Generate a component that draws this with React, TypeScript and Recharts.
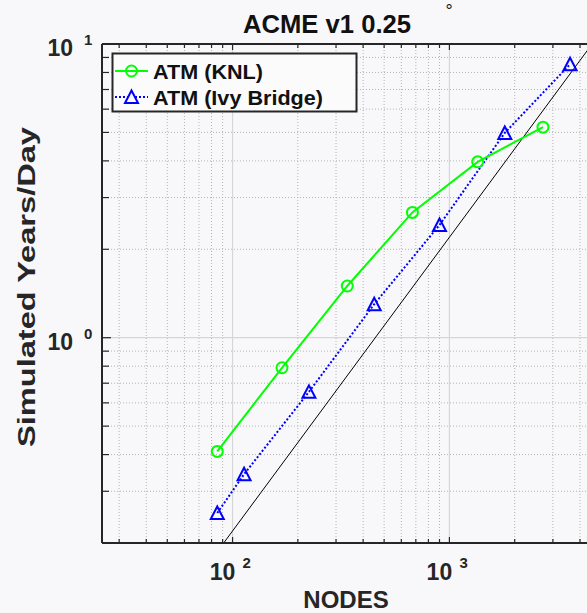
import { LineChart, Line, XAxis, YAxis, ReferenceLine } from 'recharts';

// scaling data
const knlNodes = [85, 169, 338, 675, 1350, 2700];
const knlSypd = [0.41, 0.79, 1.5, 2.67, 3.97, 5.21];
const ivyNodes = [85, 113, 225, 450, 900, 1800, 3600];
const ivySypd = [0.253, 0.343, 0.654, 1.3, 2.42, 4.98, 8.53];
const idealNodes = [91, 4550];
const idealSypd = [0.2, 10];

const xMajor = [100, 1000];
const xMinor = [30, 40, 50, 60, 70, 80, 90, 200, 300, 400, 500, 600, 700, 800, 900, 2000, 3000, 4000];
const yMajor = [1, 10];
const yMinor = [0.2, 0.3, 0.4, 0.5, 0.6, 0.7, 0.8, 0.9, 2, 3, 4, 5, 6, 7, 8, 9];
const xDomain = [25, 5000];
const yDomain = [0.2, 10];

const knl = knlNodes.map((x, i) => ({ x, y: knlSypd[i] }));
const ivy = ivyNodes.map((x, i) => ({ x, y: ivySypd[i] }));
const ideal = idealNodes.map((x, i) => ({ x, y: idealSypd[i] }));

const W = 620;
const H = 613;
const PLOT_TOP = 44;
const PLOT_LEFT = 102;
const PLOT_RIGHT = 601;
const PLOT_BOTTOM = 543;
const PLOT_W = PLOT_RIGHT - PLOT_LEFT;
const PLOT_H = PLOT_BOTTOM - PLOT_TOP;
const X_AXIS_H = 40;

const INK = '#262626';
const FONT = '"Liberation Sans", Arial, Helvetica, sans-serif';
const GREEN = '#00ff00';
const BLUE = '#0000ff';

function XTick({ x, y, payload }: any) {
  const v = payload.value as number;
  const major = xMajor.includes(v);
  const len = major ? 6 : 4;
  return (
    <g>
      <line x1={x} x2={x} y1={y} y2={y - len} stroke={INK} strokeWidth={1.2} />
      <line x1={x} x2={x} y1={y - PLOT_H} y2={y - PLOT_H + len} stroke={INK} strokeWidth={1.2} />
      {major && (
        <>
          <text x={x - 10} y={y + 37} textAnchor="middle" fontSize={23} fontWeight="bold" fill={INK} fontFamily={FONT}>10</text>
          <text x={x + 10} y={y + 25} fontSize={15} fontWeight="bold" fill={INK} fontFamily={FONT}>{Math.round(Math.log10(v))}</text>
        </>
      )}
    </g>
  );
}

function YTick({ x, y, payload }: any) {
  const v = payload.value as number;
  const major = yMajor.includes(v);
  const len = major ? 9 : 7;
  return (
    <g>
      <line x1={x} x2={x + len} y1={y} y2={y} stroke={INK} strokeWidth={1.2} />
      <line x1={x + PLOT_W} x2={x + PLOT_W - len} y1={y} y2={y} stroke={INK} strokeWidth={1.2} />
      {major && (
        <>
          <text x={x - 29} y={y + 12} textAnchor="end" fontSize={23} fontWeight="bold" fill={INK} fontFamily={FONT}>10</text>
          <text x={x - 18} y={y + 1} fontSize={15} fontWeight="bold" fill={INK} fontFamily={FONT}>{Math.round(Math.log10(v))}</text>
        </>
      )}
    </g>
  );
}

function Circle({ cx, cy, index }: any) {
  return <circle key={`c-${index}`} cx={cx} cy={cy} r={5.5} fill="none" stroke={GREEN} strokeWidth={2} />;
}

function Triangle({ cx, cy, index }: any) {
  return (
    <path
      key={`t-${index}`}
      d={`M${cx},${cy - 6.5} L${cx + 6.5},${cy + 6} L${cx - 6.5},${cy + 6} Z`}
      fill="none"
      stroke={BLUE}
      strokeWidth={2}
    />
  );
}

function LegendBox() {
  return (
    <svg width={248} height={62} style={{ position: 'absolute', left: 111, top: 52 }}>
      <rect x={1.5} y={1.5} width={244} height={58} fill="#fbfbfc" stroke={INK} strokeWidth={2} />
      <line x1={4} x2={37} y1={19} y2={19} stroke={GREEN} strokeWidth={2} />
      <circle cx={20.5} cy={19} r={5.5} fill="none" stroke={GREEN} strokeWidth={2} />
      <text x={42} y={26.5} fontSize={21} fontWeight="bold" fill="#111" fontFamily={FONT} textLength={110} lengthAdjust="spacingAndGlyphs">ATM (KNL)</text>
      <line x1={4} x2={37} y1={45} y2={45} stroke={BLUE} strokeWidth={2} strokeDasharray="2 2" />
      <path d="M20.5,38.5 L27,51 L14,51 Z" fill="#fbfbfc" stroke={BLUE} strokeWidth={2} />
      <text x={42} y={52.5} fontSize={21} fontWeight="bold" fill="#111" fontFamily={FONT} textLength={170} lengthAdjust="spacingAndGlyphs">ATM (Ivy Bridge)</text>
    </svg>
  );
}

export default function App() {
  return (
    <div style={{ position: 'fixed', left: 0, top: 0, width: 587, height: 613, overflow: 'hidden', background: '#f8f8fa' }}>
      <LineChart
        width={W}
        height={H}
        margin={{ top: PLOT_TOP, right: W - PLOT_RIGHT, left: 0, bottom: H - PLOT_BOTTOM - X_AXIS_H }}
      >
        {xMinor.map((v) => (
          <ReferenceLine key={`gx-${v}`} x={v} stroke="#b4b4b4" strokeDasharray="1 2" strokeWidth={1} />
        ))}
        {yMinor.filter((v) => v > yDomain[0]).map((v) => (
          <ReferenceLine key={`gy-${v}`} y={v} stroke="#b4b4b4" strokeDasharray="1 2" strokeWidth={1} />
        ))}
        {xMajor.map((v) => (
          <ReferenceLine key={`mx-${v}`} x={v} stroke="#d6d6d6" strokeWidth={1.2} />
        ))}
        {yMajor.filter((v) => v < yDomain[1]).map((v) => (
          <ReferenceLine key={`my-${v}`} y={v} stroke="#d6d6d6" strokeWidth={1.2} />
        ))}
        <XAxis
          dataKey="x"
          type="number"
          scale="log"
          domain={xDomain}
          allowDataOverflow
          ticks={[...xMinor, ...xMajor].sort((a, b) => a - b)}
          interval={0}
          tick={<XTick />}
          tickLine={false}
          tickSize={0}
          tickMargin={0}
          height={X_AXIS_H}
          axisLine={{ stroke: INK, strokeWidth: 2 }}
        />
        <YAxis
          dataKey="y"
          type="number"
          scale="log"
          domain={yDomain}
          allowDataOverflow
          ticks={[...yMinor, ...yMajor].sort((a, b) => a - b)}
          interval={0}
          tick={<YTick />}
          tickLine={false}
          tickSize={0}
          tickMargin={0}
          width={PLOT_LEFT}
          axisLine={{ stroke: INK, strokeWidth: 2 }}
        />
        <ReferenceLine y={yDomain[1]} stroke={INK} strokeWidth={2} />
        <ReferenceLine x={xDomain[1]} stroke={INK} strokeWidth={2} />
        <Line data={ideal} dataKey="y" stroke="#000" strokeWidth={1} dot={false} activeDot={false} isAnimationActive={false} />
        <Line data={ivy} dataKey="y" stroke={BLUE} strokeWidth={2} strokeDasharray="2 2" dot={Triangle} activeDot={false} isAnimationActive={false} />
        <Line data={knl} dataKey="y" stroke={GREEN} strokeWidth={2} dot={Circle} activeDot={false} isAnimationActive={false} />
      </LineChart>
      <svg width={587} height={613} style={{ position: 'absolute', left: 0, top: 0, pointerEvents: 'none' }}>
        <text x={327} y={33} textAnchor="middle" fontSize={26} fontWeight="bold" fill="#111" fontFamily={FONT} textLength={168} lengthAdjust="spacingAndGlyphs">ACME v1 0.25</text>
        <text x={449} y={17} textAnchor="middle" fontSize={18} fill="#111" fontFamily={FONT}>°</text>
        <text x={346} y={608} textAnchor="middle" fontSize={24} fontWeight="bold" fill={INK} fontFamily={FONT}>NODES</text>
        <text
          transform="translate(35,287) rotate(-90)"
          textAnchor="middle"
          fontSize={23}
          fontWeight="bold"
          fill={INK}
          fontFamily={FONT}
          textLength={320}
          lengthAdjust="spacingAndGlyphs"
        >
          Simulated Years/Day
        </text>
      </svg>
      <LegendBox />
    </div>
  );
}
